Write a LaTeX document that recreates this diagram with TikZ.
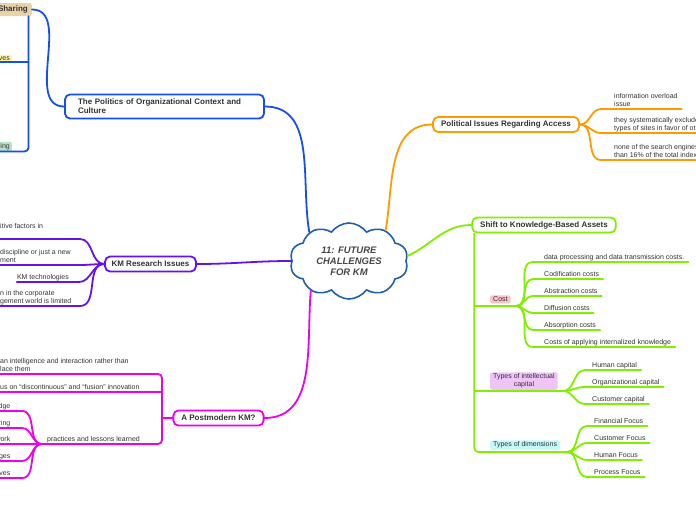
\documentclass[tikz,border=0pt]{standalone}
\usepackage{fontspec}
\setmainfont{Liberation Sans}
\usetikzlibrary{shapes.symbols}
\definecolor{blu}{HTML}{1450F0}
\definecolor{pur}{HTML}{6612E8}
\definecolor{mag}{HTML}{EE00EE}
\definecolor{org}{HTML}{FF9A00}
\definecolor{grn}{HTML}{80F000}
\definecolor{cld}{HTML}{1F5FAF}
\definecolor{txt}{HTML}{333333}
\definecolor{tanf}{HTML}{E8D3A8}
\definecolor{yelf}{HTML}{FFF3A0}
\definecolor{mintf}{HTML}{B8E2C4}
\definecolor{pinkf}{HTML}{F9C2C8}
\definecolor{lilf}{HTML}{F0C4F8}
\definecolor{cyaf}{HTML}{C4F9FA}
\tikzstyle{topic}=[draw, rounded corners=5pt, line width=1.8pt, fill=white, text=txt, font=\fontsize{8}{9}\selectfont\bfseries, inner xsep=8pt, inner ysep=2pt, minimum height=15pt]
\tikzstyle{leaf}=[text=txt, font=\fontsize{7}{8}\selectfont, align=left, inner xsep=0pt, inner ysep=2pt, text depth=0.5pt, anchor=south west]
\tikzstyle{lleaf}=[leaf, anchor=south east]
\tikzstyle{tag}=[text=txt, font=\fontsize{7}{8}\selectfont, rounded corners=1.5pt, inner xsep=3pt, inner ysep=1.5pt, align=center, anchor=south west]
\tikzstyle{branch}=[line width=1.8pt, line cap=round]

\begin{document}
\begin{tikzpicture}[x=1pt, y=1pt]
                \useasboundingbox (0,0) rectangle (696,-520);
                % centre and main topics
                \node[cloud, cloud puffs=10, cloud puff arc=110, aspect=1.55, draw=cld, line width=1.6pt, fill=white, minimum width=118pt, minimum height=76pt, inner sep=0pt, text=txt!90!white, align=center, font=\fontsize{9.5}{11}\selectfont\bfseries\itshape] (km) at (349,-261) {11: FUTURE\\CHALLENGES\\FOR KM};
                \node[topic, draw=blu, align=left, text width=173pt, inner xsep=13pt, minimum height=24pt] (pol) at (164.5,-106.5) {The Politics of Organizational Context and\\Culture};
                \node[topic, draw=org] (pia) at (506,-124.5) {Political Issues Regarding Access};
                \node[topic, draw=grn] (ska) at (544,-225) {Shift to Knowledge-Based Assets};
                \node[topic, draw=pur, inner xsep=6.5pt] (kmr) at (150.5,-264) {KM Research Issues};
                \node[topic, draw=mag] (pm) at (218.5,-418) {A Postmodern KM?};
                % politics
                \node[tag, fill=tanf, anchor=east, font=\fontsize{8}{9}\selectfont\bfseries, text width=40pt, align=right, inner xsep=4pt, minimum height=13pt, rounded corners=2pt] (shar) at (32,-9.5) {Sharing};
                \node[tag, fill=yelf, anchor=south east, text width=30pt, align=right, inner xsep=2pt] (ves) at (12,-62) {ves};
                \node[tag, fill=mintf, anchor=south east, text width=30pt, align=right, inner xsep=2pt] (ing) at (12,-151.5) {ing};
                \coordinate (sharbar) at ([xshift=-3.5pt]shar.south east);
                % access
                \node[leaf] (acc1) at (614,-109) {information overload\\issue};
                \node[leaf] (acc2) at (614,-133) {they systematically exclude\\types of sites in favor of ot};
                \node[leaf] (acc3) at (614,-160) {none of the search engines\\than 16\% of the total index};
                % knowledge-based assets
                \coordinate (skabar) at ([xshift=3pt]ska.south west);
                \node[tag, fill=pinkf] (cost) at (490,-303.5) {Cost};
                \node[tag, fill=lilf] (intc) at (490,-390) {Types of intellectual\\capital};
                \node[tag, fill=cyaf] (dims) at (490,-450) {Types of dimensions};
                \coordinate (costj) at (516,-306);
                \coordinate (intj) at (563,-391);
                \coordinate (dimj) at (567,-452);
                \node[leaf] (cst1) at (544,-262) {data processing and data transmission costs.};
                \node[leaf] (cst2) at (544,-279) {Codification costs};
                \node[leaf] (cst3) at (544,-296) {Abstraction costs};
                \node[leaf] (cst4) at (544,-313) {Diffusion costs};
                \node[leaf] (cst5) at (544,-330) {Absorption costs};
                \node[leaf] (cst6) at (544,-347) {Costs of applying internalized knowledge};
                \node[leaf] (cap1) at (592,-370) {Human capital};
                \node[leaf] (cap2) at (592,-387) {Organizational capital};
                \node[leaf] (cap3) at (592,-404) {Customer capital};
                \node[leaf] (foc1) at (594,-426) {Financial Focus};
                \node[leaf] (foc2) at (594,-443) {Customer Focus};
                \node[leaf] (foc3) at (594,-460) {Human Focus};
                \node[leaf] (foc4) at (594,-477) {Process Focus};
                % research issues
                \node[leaf] (res1) at (0,-231) {itive factors in};
                \node[leaf] (res2) at (0,-265) {discipline or just a new\\ment};
                \node[lleaf] (res3) at (69,-282) {KM technologies};
                \node[leaf] (res4) at (0,-306) {n in the corporate\\gement world is limited};
                % postmodern
                \coordinate (pmbar) at (162,-418);
                \node[leaf] (pmq1) at (0,-374) {an intelligence and interaction rather than\\lace them};
                \node[leaf] (pmq2) at (0,-392) {us on “discontinuous” and “fusion” innovation};
                \node[leaf] (pmq3) at (47,-444) {practices and lessons learned};
                \coordinate (pmj) at ([xshift=-5pt]pmq3.south west);
                \node[lleaf] (les1) at (10.5,-411) {dge};
                \node[lleaf] (les2) at (10.5,-428) {ring};
                \node[lleaf] (les3) at (10.5,-444) {work};
                \node[lleaf] (les4) at (10.5,-461) {ges};
                \node[lleaf] (les5) at (10.5,-478) {ves};

                % connectors
                \draw[branch, blu] (km.144) to[out=100, in=0] (pol.east);
                \draw[branch, org] (km.40) to[out=80, in=180] (pia.west);
                \draw[branch, grn] (km.5) to[out=25, in=180] (ska.west);
                \draw[branch, pur] (km.180) to[out=180, in=0] (kmr.east);
                \draw[branch, mag] (km.218) to[out=-95, in=0] (pm.east);

                \draw[branch, blu] (pol.west) to[out=180, in=0] (shar.east);
                \draw[branch, blu, rounded corners=4pt] (sharbar) |- (ing.south west);
                \draw[branch, blu] (sharbar |- ves.south) -- (ves.south west);

                \draw[branch, org] (pia.east) to[out=0, in=180] ([xshift=-13pt]acc1.south west) -- ([xshift=4pt]acc1.south east);
                \draw[branch, org] (pia.east) to[out=0, in=180] ([xshift=-13pt]acc2.south west) -- ([xshift=4pt]acc2.south east);
                \draw[branch, org] (pia.east) to[out=0, in=180] ([xshift=-13pt]acc3.south west) -- ([xshift=4pt]acc3.south east);

                \draw[branch, grn, rounded corners=4pt] (skabar) |- (dimj);
                \draw[branch, grn] (skabar |- costj) -- (costj);
                \draw[branch, grn] (skabar |- intj) -- (intj);
                \draw[branch, grn] (costj) to[out=0, in=180] ([xshift=-11pt]cst1.south west) -- ([xshift=4pt]cst1.south east);
                \draw[branch, grn] (costj) to[out=0, in=180] ([xshift=-11pt]cst2.south west) -- ([xshift=4pt]cst2.south east);
                \draw[branch, grn] (costj) to[out=0, in=180] ([xshift=-11pt]cst3.south west) -- ([xshift=4pt]cst3.south east);
                \draw[branch, grn] (costj) to[out=0, in=180] ([xshift=-11pt]cst4.south west) -- ([xshift=4pt]cst4.south east);
                \draw[branch, grn] (costj) to[out=0, in=180] ([xshift=-11pt]cst5.south west) -- ([xshift=4pt]cst5.south east);
                \draw[branch, grn] (costj) to[out=0, in=180] ([xshift=-11pt]cst6.south west) -- ([xshift=4pt]cst6.south east);
                \draw[branch, grn] (intj) to[out=0, in=180] ([xshift=-7pt]cap1.south west) -- ([xshift=4pt]cap1.south east);
                \draw[branch, grn] (intj) to[out=0, in=180] ([xshift=-7pt]cap2.south west) -- ([xshift=4pt]cap2.south east);
                \draw[branch, grn] (intj) to[out=0, in=180] ([xshift=-7pt]cap3.south west) -- ([xshift=4pt]cap3.south east);
                \draw[branch, grn] (dimj) to[out=0, in=180] ([xshift=-7pt]foc1.south west) -- ([xshift=4pt]foc1.south east);
                \draw[branch, grn] (dimj) to[out=0, in=180] ([xshift=-7pt]foc2.south west) -- ([xshift=4pt]foc2.south east);
                \draw[branch, grn] (dimj) to[out=0, in=180] ([xshift=-7pt]foc3.south west) -- ([xshift=4pt]foc3.south east);
                \draw[branch, grn] (dimj) to[out=0, in=180] ([xshift=-7pt]foc4.south west) -- ([xshift=4pt]foc4.south east);

                \draw[branch, pur] (kmr.west) to[out=180, in=0] ([shift={(80pt,-8pt)}]res1.south west) -- ([shift={(-5pt,-8pt)}]res1.south west);
                \draw[branch, pur] (kmr.west) to[out=180, in=0] ([xshift=80pt]res2.south west) -- ([xshift=-5pt]res2.south west);
                \draw[branch, pur] (kmr.west) to[out=180, in=0] ([xshift=10pt]res3.south east) -- (res3.south west);
                \draw[branch, pur] (kmr.west) to[out=180, in=0] ([xshift=80pt]res4.south west) -- ([xshift=-5pt]res4.south west);

                \draw[branch, mag] (pm.west) -- (pmbar);
                \draw[branch, mag, rounded corners=4pt] ([xshift=-5pt]pmq1.south west) -| (pmbar) |- (pmj);
                \draw[branch, mag] ([xshift=-5pt]pmq2.south west) -- (pmbar |- pmq2.south west);
                \draw[branch, mag] (pmj) to[out=180, in=0] ([xshift=11.5pt]les1.south east) -- ([xshift=-5pt]les1.south west);
                \draw[branch, mag] (pmj) to[out=180, in=0] ([xshift=11.5pt]les2.south east) -- ([xshift=-5pt]les2.south west);
                \draw[branch, mag] (pmj) to[out=180, in=0] ([xshift=11.5pt]les3.south east) -- ([xshift=-5pt]les3.south west);
                \draw[branch, mag] (pmj) to[out=180, in=0] ([xshift=11.5pt]les4.south east) -- ([xshift=-5pt]les4.south west);
                \draw[branch, mag] (pmj) to[out=180, in=0] ([xshift=11.5pt]les5.south east) -- ([xshift=-5pt]les5.south west);
            \end{tikzpicture}
\end{document}
